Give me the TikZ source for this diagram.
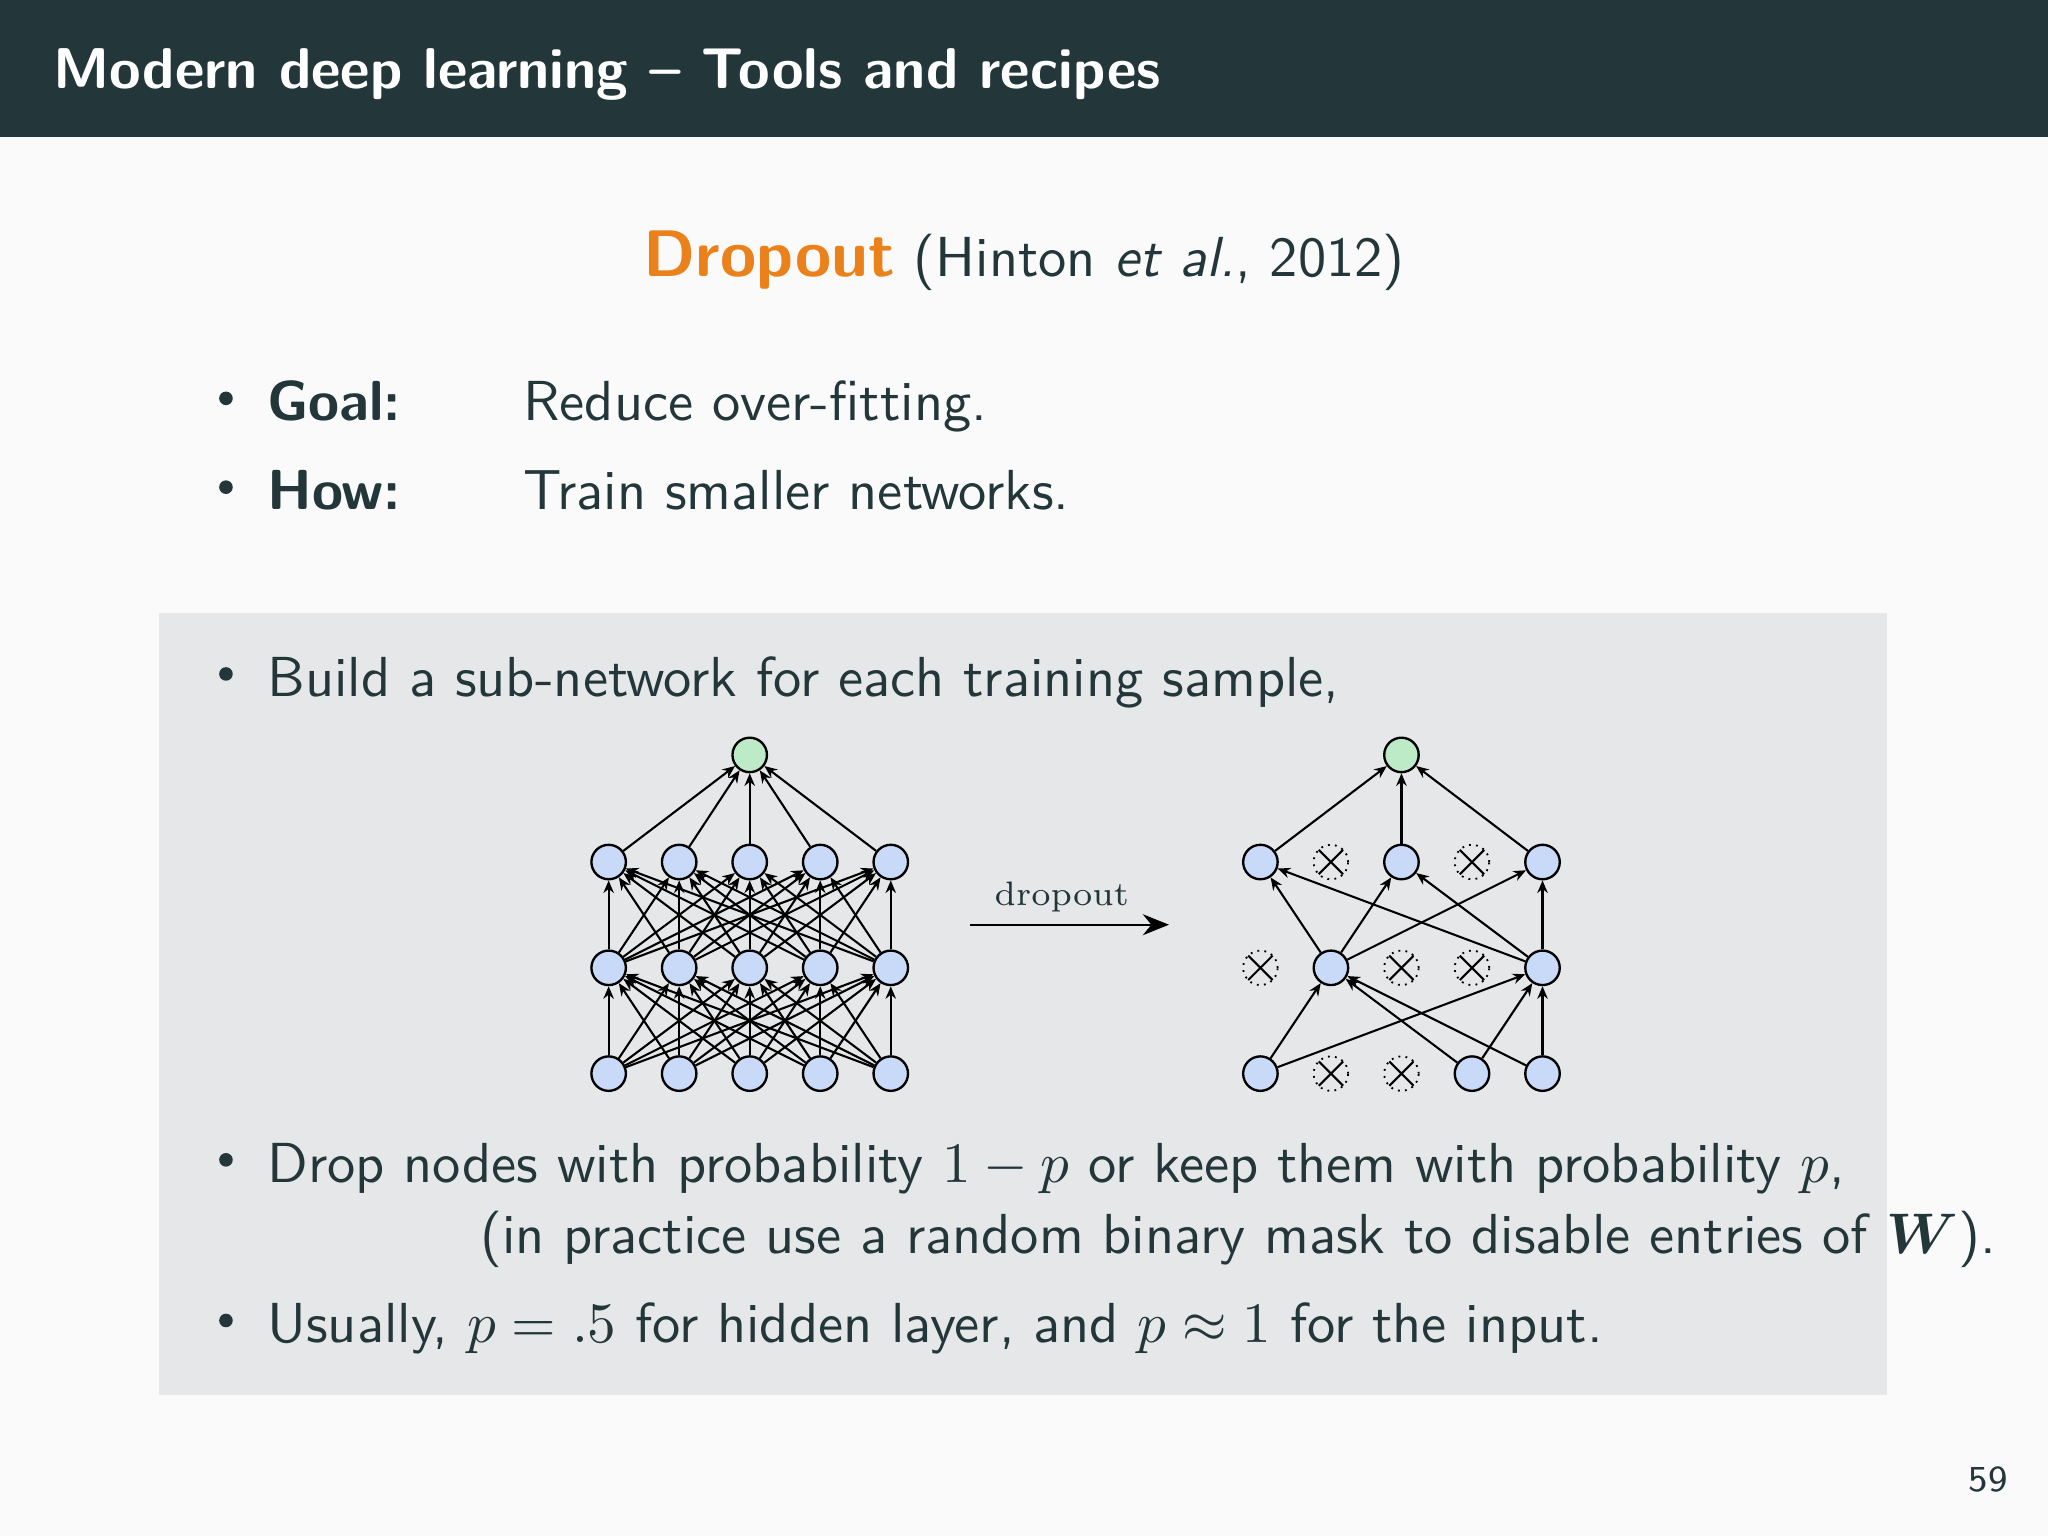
\documentclass[tikz,border=0pt]{standalone}
\usepackage{amsmath,bm}
\usetikzlibrary{arrows.meta}
\definecolor{hdr}{HTML}{23373B}
\definecolor{bgc}{HTML}{FAFAFA}
\definecolor{blk}{HTML}{E6E7E8}
\definecolor{org}{HTML}{EB811B}
\definecolor{nblue}{HTML}{C9DAF8}
\definecolor{ngreen}{HTML}{BDEBC8}
\tikzset{
 neur/.style={circle,draw,line width=0.45pt,fill=nblue,minimum size=6.6pt,inner sep=0pt},
 outn/.style={neur,fill=ngreen},
 dropn/.style={circle,draw,densely dotted,line width=0.35pt,minimum size=6.6pt,inner sep=0pt,
   path picture={\draw[line width=0.4pt,solid] (path picture bounding box.south west)--(path picture bounding box.north east) (path picture bounding box.north west)--(path picture bounding box.south east);}},
 conn/.style={-{Stealth[length=2.4pt,width=2pt]},line width=0.4pt},
 txt/.style={anchor=base west,inner sep=0pt,font=\sffamily\fontsize{10.8}{13}\selectfont,text=hdr},
 bul/.style={circle,fill=hdr,inner sep=0pt,minimum size=2.6pt}
}
\begin{document}
\begin{tikzpicture}[x=0.25pt,y=-0.25pt]
\useasboundingbox (0,0) rectangle (1568,1176);
\fill[bgc] (0,0) rectangle (1568,1176);
\fill[hdr] (0,0) rectangle (1568,105);
\node[txt,text=white,font=\sffamily\bfseries\fontsize{11}{13}\selectfont] (title) at (40,68) {Modern deep learning -- Tools and recipes};
\node[anchor=base,inner sep=0pt,font=\sffamily\fontsize{10.8}{13}\selectfont,text=hdr] (sub) at (784,212) {{\bfseries\color{org}\fontsize{12.6}{15}\selectfont Dropout} (Hinton \textit{et al.}, 2012)};
\node[bul] (b1) at (173,305) {};
\node[txt] (g) at (204,322) {\bfseries Goal:};
\node[txt] (g2) at (400,322) {Reduce over-fitting.};
\node[bul] (b2) at (173,373) {};
\node[txt] (h) at (204,390) {\bfseries How:};
\node[txt] (h2) at (400,390) {Train smaller networks.};
\fill[blk] (122,469) rectangle (1445,1068);
\node[bul] (b3) at (173,516) {};
\node[txt] (t3) at (204,533) {Build a sub-network for each training sample,};
\node[bul] (b4) at (173,888) {};
\node[txt] (t4) at (204,905) {Drop nodes with probability $1-p$ or keep them with probability $p$,};
\node[txt] (t5) at (367,960) {(in practice use a random binary mask to disable entries of $\bm{W}$).};
\node[bul] (b5) at (173,1011) {};
\node[txt] (t6) at (204,1028) {Usually, $p=.5$ for hidden layer, and $p\approx1$ for the input.};
\node[anchor=base east,inner sep=0pt,font=\sffamily\fontsize{7}{8}\selectfont,text=hdr] (pg) at (1538,1142) {59};
% left network
\foreach \i/\x in {1/466,2/520,3/574,4/628,5/682}{
  \node[neur] (L1\i) at (\x,822) {};
  \node[neur] (L2\i) at (\x,741) {};
  \node[neur] (L3\i) at (\x,660) {};
}
\node[outn] (LO) at (574,578) {};
\foreach \i in {1,...,5}{
  \draw[conn] (L3\i) -- (LO);
  \foreach \j in {1,...,5}{
    \draw[conn] (L1\i) -- (L2\j);
    \draw[conn] (L2\i) -- (L3\j);
  }
}
% arrow
\coordinate (a1) at (743,708);
\coordinate (a2) at (895,708);
\draw[-{Stealth[length=5pt,width=4pt]},line width=0.45pt] (a1) -- (a2);
\node[anchor=base,inner sep=0pt,font=\fontsize{6.5}{8}\selectfont,text=hdr] (dl) at (813,693) {dropout};
% right network
\node[neur] (R11) at (965,822) {};
\node[dropn] (R12) at (1019,822) {};
\node[dropn] (R13) at (1073,822) {};
\node[neur] (R14) at (1127,822) {};
\node[neur] (R15) at (1181,822) {};
\node[dropn] (R21) at (965,741) {};
\node[neur] (R22) at (1019,741) {};
\node[dropn] (R23) at (1073,741) {};
\node[dropn] (R24) at (1127,741) {};
\node[neur] (R25) at (1181,741) {};
\node[neur] (R31) at (965,660) {};
\node[dropn] (R32) at (1019,660) {};
\node[neur] (R33) at (1073,660) {};
\node[dropn] (R34) at (1127,660) {};
\node[neur] (R35) at (1181,660) {};
\node[outn] (RO) at (1073,578) {};
\foreach \i in {1,3,5}{
  \draw[conn] (R3\i) -- (RO);
  \draw[conn] (R22) -- (R3\i);
  \draw[conn] (R25) -- (R3\i);
}
\foreach \i in {1,4,5}{
  \draw[conn] (R1\i) -- (R22);
  \draw[conn] (R1\i) -- (R25);
}
\end{tikzpicture}
\end{document}
